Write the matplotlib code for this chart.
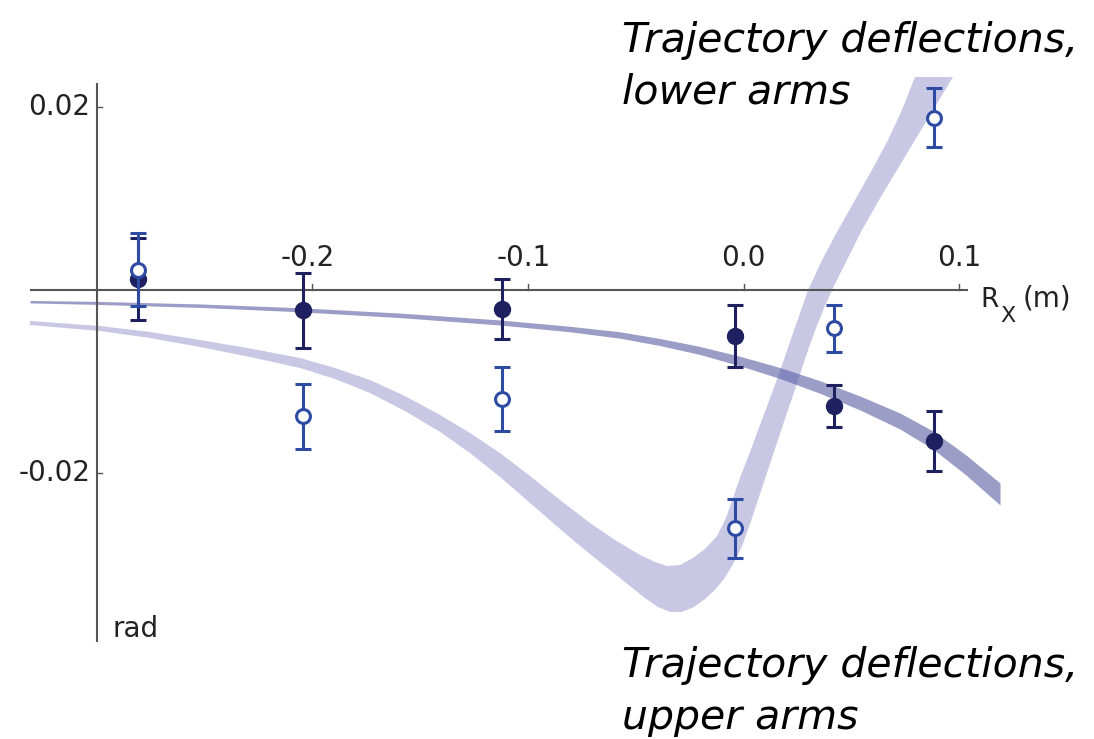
import numpy as np
import matplotlib
matplotlib.use("Agg")
import matplotlib.pyplot as plt

# Measured deflections (rad) versus R_x (m)
x_pos = [-0.2807, -0.2044, -0.1122, -0.0041, 0.0420, 0.0882]

lower_y = [0.0012, -0.0022, -0.0021, -0.0050, -0.0127, -0.0165]
lower_err = [0.0045, 0.0041, 0.0033, 0.0034, 0.0023, 0.0033]

upper_y = [0.0022, -0.0138, -0.0119, -0.0260, -0.0042, 0.0188]
upper_err = [0.0040, 0.0035, 0.0035, 0.0032, 0.0026, 0.0032]

# Theory band for the lower arms (nearly flat, then falling)
band_lo_x = [-0.3309, -0.2985, -0.2521, -0.2057, -0.1594, -0.1130, -0.0806, -0.0574,
             -0.0389, -0.0203, -0.0018, 0.0168, 0.0353, 0.0539, 0.0724, 0.0877,
             0.1030, 0.1188]
band_lo_top = [-0.00114, -0.00125, -0.00152, -0.00194, -0.00252, -0.00327, -0.00396,
               -0.00456, -0.00529, -0.00616, -0.00723, -0.00846, -0.00990, -0.01157,
               -0.01342, -0.01538, -0.01800, -0.02106]
band_lo_bot = [-0.00141, -0.00158, -0.00190, -0.00238, -0.00301, -0.00382, -0.00456,
               -0.00526, -0.00606, -0.00704, -0.00827, -0.00966, -0.01127, -0.01309,
               -0.01517, -0.01735, -0.02018, -0.02346]

# Theory band for the upper arms (dip, then steep rise): inner and outer edge of the ribbon
band_up_inner_x = [-0.3309, -0.2985, -0.2753, -0.2521, -0.2289, -0.2057, -0.1895, -0.1733,
                   -0.1571, -0.1408, -0.1269, -0.1130, -0.0991, -0.0852, -0.0713, -0.0597,
                   -0.0481, -0.0412, -0.0356, -0.0296, -0.0236, -0.0180, -0.0124, -0.0083,
                   -0.0050, -0.0018, 0.0029, 0.0075, 0.0122, 0.0168, 0.0214, 0.0261,
                   0.0298, 0.0363, 0.0437, 0.0516, 0.0594, 0.0669, 0.0733, 0.0794]
band_up_inner_y = [-0.00338, -0.00393, -0.00458, -0.00546, -0.00638, -0.00742, -0.00851, -0.00982,
                   -0.01157, -0.01364, -0.01560, -0.01779, -0.02029, -0.02291, -0.02542, -0.02728,
                   -0.02891, -0.02968, -0.03011, -0.03001, -0.02924, -0.02826, -0.02684, -0.02488,
                   -0.02270, -0.02051, -0.01768, -0.01473, -0.01178, -0.00884, -0.00567, -0.00251,
                   0.0, 0.00327, 0.00655, 0.00982, 0.01309, 0.01637, 0.01964, 0.02324]
band_up_outer_x = [-0.3309, -0.2985, -0.2753, -0.2521, -0.2289, -0.2057, -0.1895, -0.1733,
                   -0.1571, -0.1408, -0.1269, -0.1130, -0.0991, -0.0852, -0.0759, -0.0667,
                   -0.0597, -0.0528, -0.0458, -0.0398, -0.0342, -0.0287, -0.0231, -0.0180,
                   -0.0134, -0.0092, -0.0055, -0.0027, -0.0004, 0.0038, 0.0075, 0.0112,
                   0.0149, 0.0186, 0.0224, 0.0261, 0.0298, 0.0335, 0.0372, 0.0409,
                   0.0478, 0.0548, 0.0627, 0.0710, 0.0794, 0.0877, 0.0970]
band_up_outer_y = [-0.00382, -0.00447, -0.00524, -0.00622, -0.00731, -0.00851, -0.00971, -0.01124,
                   -0.01320, -0.01549, -0.01779, -0.02040, -0.02324, -0.02608, -0.02793, -0.02968,
                   -0.03099, -0.03230, -0.03361, -0.03459, -0.03513, -0.03513, -0.03459, -0.03372,
                   -0.03273, -0.03153, -0.03011, -0.02891, -0.02771, -0.02488, -0.02226, -0.01964,
                   -0.01702, -0.01440, -0.01178, -0.00917, -0.00655, -0.00415, -0.00196, 0.0,
                   0.00327, 0.00655, 0.00982, 0.01309, 0.01637, 0.01964, 0.02324]

x_ticks = [-0.2, -0.1, 0.0, 0.1]
x_tick_labels = ["-0.2", "-0.1", "0.0", "0.1"]
y_ticks = [0.02, -0.02]
y_tick_labels = ["0.02", "-0.02"]

AXIS_X0 = -0.3          # where the vertical axis sits
X_LINE = (-0.3309, 0.1041)
Y_LINE = (-0.03841, 0.02258)

NAVY = "#1e2060"
BLUE = "#2e4ba3"
AX_COL = "#555555"
TXT = "#222222"

fig = plt.figure(figsize=(10.94, 7.39), dpi=100)
ax = fig.add_axes([0, 0, 1, 1])
ax.set_xlim(-0.34483, 0.16236)
ax.set_ylim(-0.048991, 0.031642)
ax.axis("off")

# theory ribbons
ax.fill(np.concatenate([band_up_inner_x, band_up_outer_x[::-1]]),
        np.concatenate([band_up_inner_y, band_up_outer_y[::-1]]),
        color=(133/255, 133/255, 199/255), alpha=0.45, lw=0, zorder=1)
ax.fill_between(band_lo_x, band_lo_bot, band_lo_top,
                color=(88/255, 92/255, 163/255), alpha=0.6, lw=0, zorder=2)

# axes lines
ax.plot(X_LINE, [0, 0], color=AX_COL, lw=1.5, zorder=3, solid_capstyle="butt")
ax.plot([AXIS_X0, AXIS_X0], Y_LINE, color=AX_COL, lw=1.5, zorder=3, solid_capstyle="butt")

tick_len_y = 6 / 9165
tick_len_x = 5 / 2157
for xt, lab in zip(x_ticks, x_tick_labels):
    ax.plot([xt, xt], [0, tick_len_y], color=AX_COL, lw=1.0, zorder=3)
    shift = -0.0022 if lab.startswith("-") else 0.0
    ax.text(xt + shift, 0.0035, lab, ha="center", va="center", fontsize=20,
            family="DejaVu Sans", color=TXT)
for yt, lab in zip(y_ticks, y_tick_labels):
    ax.plot([AXIS_X0, AXIS_X0 + tick_len_x], [yt, yt], color=AX_COL, lw=1.0, zorder=3)
    ax.text(AXIS_X0 - 0.003, yt, lab, ha="right", va="center", fontsize=20,
            family="DejaVu Sans", color=TXT)

# axis labels
ax.text(0.1095, -0.00185, "R", ha="left", va="baseline", fontsize=19,
        family="DejaVu Sans", color=TXT)
ax.text(0.1188, -0.00349, "X", ha="left", va="baseline", fontsize=16,
        family="DejaVu Sans", color=TXT)
ax.text(0.1294, -0.00185, "(m)", ha="left", va="baseline", fontsize=20,
        family="DejaVu Sans", color=TXT)
ax.text(-0.2929, -0.03784, "rad", ha="left", va="baseline", fontsize=20,
        family="DejaVu Sans", color=TXT)

# measurements
ax.errorbar(x_pos, lower_y, yerr=lower_err, fmt="o", color=NAVY, ecolor=NAVY,
            markersize=11.5, elinewidth=2.2, capsize=6, capthick=2.2, zorder=5)
ax.errorbar(x_pos, upper_y, yerr=upper_err, fmt="o", color=BLUE, ecolor=BLUE,
            markerfacecolor="white", markeredgecolor=BLUE, markeredgewidth=2.2,
            markersize=10, elinewidth=2.2, capsize=6, capthick=2.2, zorder=6)

# annotations
note_kw = dict(ha="left", va="baseline", fontsize=29.5, family="DejaVu Sans",
               style="italic", color="black")
ax.text(-0.0565, (290 - 52) / 9165, "Trajectory deflections,", **note_kw)
ax.text(-0.0565, (290 - 104) / 9165, "lower arms", **note_kw)
ax.text(-0.0565, (290 - 677) / 9165, "Trajectory deflections,", **note_kw)
ax.text(-0.0565, (290 - 729) / 9165, "upper arms", **note_kw)

fig.savefig("out.png", dpi=100, facecolor="white")
